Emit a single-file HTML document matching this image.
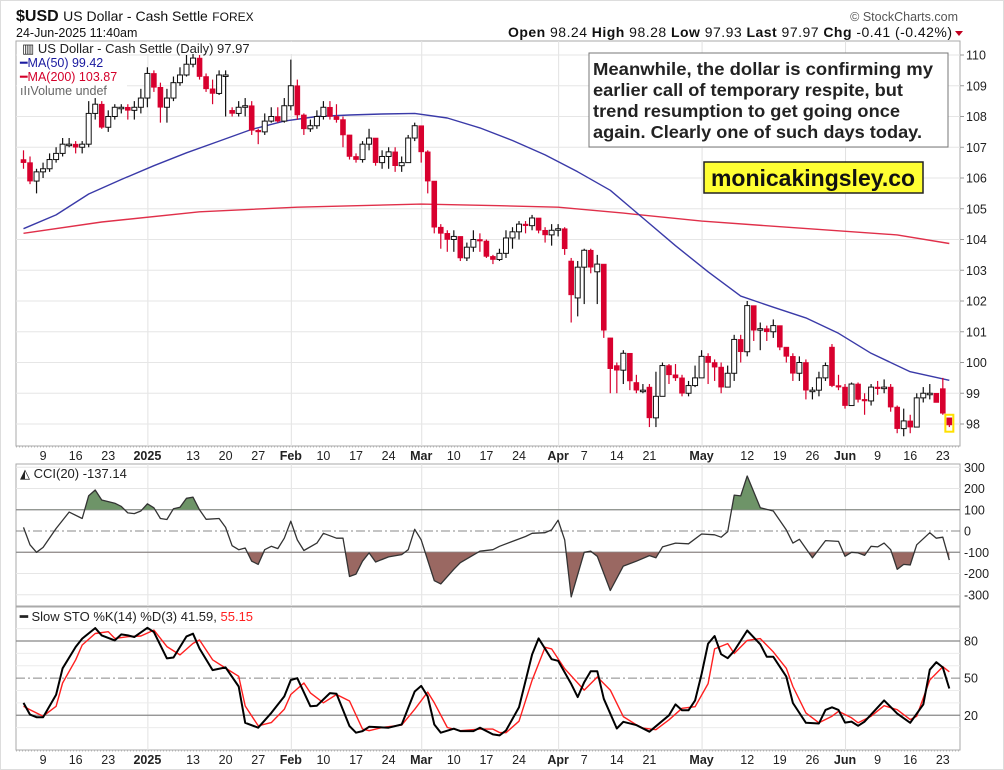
<!DOCTYPE html>
<html><head><meta charset="utf-8"><style>
html,body{margin:0;padding:0;background:#fff}
svg{display:block;font-family:"Liberation Sans",Arial,sans-serif}
</style></head><body>
<svg id="chart" width="1004" height="770" viewBox="0 0 1004 770" xmlns="http://www.w3.org/2000/svg">
<rect x="0.5" y="0.5" width="1003" height="769" fill="#fff" stroke="#ddd"/>
<g>
<text x="16" y="21" font-size="16" font-weight="bold" fill="#111">$USD <tspan font-weight="normal" font-size="14">US Dollar - Cash Settle</tspan> <tspan font-weight="normal" font-size="12">FOREX</tspan></text>
<text x="16" y="37" font-size="12.5" fill="#111">24-Jun-2025 11:40am</text>
<text x="958" y="21" font-size="12.5" fill="#555" text-anchor="end">© StockCharts.com</text>
<text x="508" y="37" font-size="14" fill="#111" textLength="444" lengthAdjust="spacing"><tspan font-weight="bold">Open</tspan> 98.24 <tspan font-weight="bold">High</tspan> 98.28 <tspan font-weight="bold">Low</tspan> 97.93 <tspan font-weight="bold">Last</tspan> 97.97 <tspan font-weight="bold">Chg</tspan> -0.41 (-0.42%)</text>
<polygon points="955,31 963,31 959,36" fill="#c00020"/>
</g>
<g id="grid"></g>
<g id="marks"></g>
<g id="axes"></g>
<g>
<rect x="17" y="42" width="285" height="12" fill="#fff"/>
<rect x="17" y="54" width="110" height="42" fill="#fff"/>
<text x="22" y="53" font-size="13" fill="#222">▥ US Dollar - Cash Settle (Daily) 97.97</text>
<text x="20" y="67" font-size="12.5" fill="#1a1aa0">━MA(50) 99.42</text>
<text x="20" y="81" font-size="12.5" fill="#d4002a">━MA(200) 103.87</text>
<text x="20" y="95" font-size="12.5" fill="#666">ıIıVolume undef</text>
</g>
<g>
<rect x="589" y="53" width="359" height="94" fill="#fff" stroke="#777" stroke-width="1"/>
<text x="593" y="75" font-size="17.5" font-weight="bold" fill="#222" textLength="340" lengthAdjust="spacingAndGlyphs">Meanwhile, the dollar  is confirming my</text>
<text x="593" y="96" font-size="17.5" font-weight="bold" fill="#222" textLength="310" lengthAdjust="spacingAndGlyphs">earlier call of temporary respite, but</text>
<text x="593" y="117" font-size="17.5" font-weight="bold" fill="#222" textLength="307" lengthAdjust="spacingAndGlyphs">trend resumption to get going once</text>
<text x="593" y="138" font-size="17.5" font-weight="bold" fill="#222" textLength="329" lengthAdjust="spacingAndGlyphs">again. Clearly one of such days today.</text>
</g>
<g>
<rect x="704" y="162" width="219" height="31" fill="#ffff33" stroke="#222" stroke-width="1.5"/>
<text x="813" y="186" font-size="23" font-weight="bold" fill="#111" text-anchor="middle">monicakingsley.co</text>
</g>
</svg>
<script>
// ---------- DATA ----------
const opens=[106.6,106.5,105.9,106.2,106.3,106.6,106.8,107.1,107.1,107.0,107.1,108.1,108.4,107.65,108.0,108.3,108.3,108.2,108.3,108.6,109.4,108.95,108.3,108.6,109.1,109.35,109.7,109.9,109.3,108.9,108.75,109.35,108.2,108.1,108.3,108.35,107.55,107.5,107.85,108.0,107.85,108.35,109.0,108.05,107.6,107.7,108.0,108.3,108.0,107.9,107.4,106.7,106.6,107.1,107.3,106.5,106.7,106.85,106.4,106.5,107.3,107.7,106.85,105.9,104.4,104.2,104.0,104.1,103.4,103.75,104.0,103.95,103.45,103.35,103.55,104.05,104.25,104.5,104.45,104.7,104.3,104.15,104.3,104.35,103.3,102.1,103.1,103.65,102.95,103.2,100.8,99.9,99.75,100.3,99.35,99.1,99.2,98.2,98.9,99.9,99.6,99.5,99.0,99.25,99.5,100.2,100.0,99.85,99.2,99.65,100.75,100.35,101.85,101.05,101.1,101.0,101.2,100.5,100.2,99.65,100.0,99.1,99.1,99.5,100.5,99.25,99.2,98.6,99.3,98.8,98.75,99.2,99.15,99.2,98.55,97.85,98.1,97.9,98.85,99.0,99.0,99.15,98.2];
const closes=[106.5,105.9,106.2,106.3,106.6,106.8,107.1,107.1,107.0,107.1,108.1,108.4,107.65,108.0,108.3,108.3,108.2,108.3,108.6,109.4,108.95,108.3,108.6,109.1,109.35,109.7,109.9,109.3,108.9,108.75,109.35,109.35,108.1,108.3,108.35,107.55,107.5,107.85,108.0,107.85,108.35,109.0,108.05,107.6,107.7,108.0,108.3,108.0,107.9,107.4,106.7,106.6,107.1,107.3,106.5,106.7,106.85,106.4,106.5,107.3,107.7,106.85,105.9,104.4,104.2,104.0,104.1,103.4,103.75,104.0,103.95,103.45,103.35,103.55,104.05,104.25,104.5,104.45,104.7,104.3,104.15,104.3,104.35,103.7,102.2,103.1,103.65,103.1,103.2,101.05,99.8,99.75,100.3,99.4,99.1,99.1,98.2,98.9,99.9,99.6,99.5,99.0,99.25,99.5,100.2,100.0,99.85,99.2,99.65,100.75,100.35,101.85,101.05,101.1,101.0,101.2,100.5,100.2,99.65,100.0,99.1,99.1,99.5,99.9,99.25,99.2,98.6,99.3,98.8,98.75,99.2,99.15,99.2,98.55,97.85,98.1,97.9,98.85,99.0,99.0,98.7,98.35,97.97];
const highs=[106.9,106.7,106.3,106.5,106.8,107.0,107.3,107.3,107.2,107.2,108.5,108.6,108.5,108.2,108.4,108.4,108.4,108.5,108.9,109.6,109.5,109.1,108.9,109.3,109.6,110.0,110.1,110.0,109.4,109.2,109.5,109.5,108.3,108.5,108.6,108.5,107.6,108.1,108.3,108.3,108.6,109.85,109.2,108.1,107.9,108.2,108.5,108.5,108.4,108.0,107.4,106.8,107.2,107.6,107.3,106.9,107.0,107.0,106.7,107.4,107.8,107.7,106.9,105.9,104.5,104.3,104.3,104.1,103.9,104.3,104.2,104.0,103.5,103.7,104.3,104.4,104.6,104.6,104.8,104.7,104.4,104.5,104.5,104.4,103.4,103.3,103.7,103.7,103.5,103.2,100.8,100.0,100.4,100.3,99.6,99.3,99.3,99.7,100.0,99.95,99.95,99.6,99.4,99.9,100.4,100.3,100.1,100.0,99.9,100.9,100.9,102.0,101.85,101.3,101.2,101.4,101.2,100.5,100.3,100.2,100.1,99.2,99.7,100.0,100.6,99.6,99.3,99.35,99.35,99.0,99.3,99.4,99.45,99.3,98.6,98.5,98.3,99.0,99.2,99.3,99.0,99.5,98.2];
const lows=[106.3,105.8,105.5,106.0,106.2,106.5,106.7,107.0,106.8,106.8,107.0,107.9,107.6,107.5,107.9,108.1,107.9,107.9,108.1,108.3,108.8,107.8,107.8,108.5,109.0,109.3,109.6,109.2,108.8,108.4,108.7,108.0,108.0,108.0,108.0,107.4,107.1,107.4,107.8,107.8,107.8,108.2,107.9,107.4,107.5,107.6,107.9,107.9,107.8,107.0,106.6,106.5,106.5,106.9,106.4,106.3,106.3,106.2,106.2,106.5,107.2,106.5,105.5,104.2,103.7,103.6,103.6,103.3,103.3,103.6,103.6,103.4,103.2,103.3,103.4,103.7,104.0,104.2,104.3,104.2,103.9,103.8,104.1,103.5,101.3,101.5,101.9,102.9,101.9,100.8,99.0,99.0,99.3,99.1,99.0,99.0,97.9,97.9,98.9,99.3,99.4,98.9,98.9,99.2,99.5,99.3,99.4,99.0,99.2,99.4,100.0,100.2,100.7,100.4,100.7,100.8,100.4,100.0,99.4,99.4,98.8,98.8,98.9,99.4,99.2,99.1,98.5,98.6,98.7,98.3,98.6,98.95,99.0,98.4,97.7,97.6,97.7,97.9,98.7,98.8,98.7,98.3,97.9];
const ma50Idx=[0,5,10,15,20,25,30,35,40,45,50,55,60,65,70,75,80,85,90,95,100,105,110,115,120,125,130,136,142];
const ma50Val=[104.35,104.8,105.48,105.95,106.4,106.82,107.2,107.58,107.85,108.0,108.05,108.08,108.1,107.95,107.63,107.22,106.75,106.2,105.6,104.7,103.8,102.95,102.16,101.8,101.45,100.95,100.3,99.7,99.42];
const ma200Idx=[0,12,27,42,61,73,82,92,104,119,134,142];
const ma200Val=[104.2,104.57,104.9,105.05,105.15,105.1,105.05,104.86,104.6,104.37,104.15,103.87];
const cciIdx=[0,1,2,3,5,7,9,10,11,12,14,15,16,17,18,19,20,21,22,23,24,25,26,27,28,30,31,32,33,34,35,36,37,38,39,40,41,42,43,45,46,48,49,50,51,52,53,54,56,58,59,60,61,63,64,66,67,70,72,73,75,77,78,80,81,82,83,84,86,87,88,90,92,94,96,97,98,100,102,104,106,107,108,109,110,111,113,115,117,118,119,121,123,125,126,127,128,129,130,131,132,133,134,135,136,137,139,140,141,142];
const cciVal=[17,-65,-100,-77,12,89,59,166,193,146,131,116,85,82,94,128,109,59,54,105,112,154,159,100,55,59,17,-69,-88,-80,-142,-157,-88,-72,-83,-34,46,-42,-92,-57,-11,-34,-34,-214,-203,-142,-103,-146,-122,-111,-88,8,-42,-234,-249,-180,-149,-95,-88,-72,-49,-26,-11,-8,5,51,-42,-310,-100,-95,-119,-280,-165,-142,-116,-126,-75,-57,-60,-14,-18,-29,-3,169,165,259,109,94,5,-57,-39,-126,-45,-49,-119,-100,-103,-115,-72,-75,-57,-88,-180,-157,-160,-65,-8,-34,-29,-137.14];
const stoKIdx=[0,1,2,3,5,6,8,9,11,12,14,15,16,17,19,20,22,23,25,26,27,29,31,33,34,36,38,40,41,42,44,45,47,48,50,51,52,53,56,58,60,61,62,63,64,66,67,69,70,72,73,74,76,78,79,81,82,84,85,86,87,88,89,91,92,94,96,99,100,101,102,103,104,105,106,107,108,109,111,113,114,115,117,118,120,122,123,124,125,126,127,128,129,132,134,136,138,139,140,141,142];
const stoKVal=[30,20.5,18.4,18.4,36.5,57.9,75.2,81.9,90.4,84.5,80.5,85.3,84.5,83.2,90.7,87.2,65.9,66.7,83.7,85.9,73.9,56.5,58.7,43.2,13.9,9.9,21.9,35.2,48.5,49.9,27.2,27.7,37.9,37.3,11.2,5.9,7.2,10.7,9.9,12.5,39.2,43.7,35.2,12.5,5.9,9.1,7.2,7.2,9.9,4.5,3.7,7.7,26.4,69.1,82.1,65.3,64,45.3,34.7,46.7,55.5,55.5,33.3,9.3,14.7,12,6.7,20,28.8,24,24,32,53.3,77.9,84,69.3,66.1,72,88.5,77.3,67.2,67.2,51.2,29.9,13.9,13.3,24.3,26.4,24.3,14.1,14.9,11.5,14.9,32,21.3,13.9,28.8,56.8,62.9,58.7,41.59];
const stoDIdx=[0,1,3,5,6,8,9,11,13,14,16,18,20,22,24,26,27,29,31,33,34,36,38,40,41,43,44,46,48,50,52,53,55,58,60,62,63,65,67,70,72,73,74,76,78,80,81,83,86,87,88,90,92,94,95,97,99,101,103,105,106,108,109,111,113,115,117,118,120,122,124,125,127,128,130,132,134,136,137,139,141,142];
const stoDVal=[27.2,24.5,19.2,27.2,46.1,64.8,76.8,86.1,87.5,82.1,83.5,84,88.8,75.5,68.8,78.1,80.8,64.8,58.1,51.5,27.5,11.5,14.1,24.8,36.8,46.1,38.1,30.1,36.8,31.5,8.8,7.5,10.1,12,24.8,38.7,30.1,10.1,7.5,8.8,8.8,6.1,5.9,15.2,48.3,74.9,73.6,57.6,40.3,45.6,50.9,40.3,18.9,12.3,9.6,8.3,16.3,25.6,26.9,45.6,73.6,77.9,69.9,80.5,81.9,71.2,57.9,43.2,21.9,13.9,19.2,23.2,17.9,13.9,19.2,27.7,24.5,16.5,19.2,48.5,59.2,55.15];
const tickIdx=[3,8,13,19,26,31,36,41,46,51,56,61,66,71,76,82,86,91,96,104,111,116,121,126,131,136,141];
const tickLabels=['9','16','23','2025','13','20','27','Feb','10','17','24','Mar','10','17','24','Apr','7','14','21','May','12','19','26','Jun','9','16','23'];
const tickBold=[0,0,0,1,0,0,0,1,0,0,0,1,0,0,0,1,0,0,0,1,0,0,0,1,0,0,0];
const monthIdx=[19,41,61,82,104,126];
const priceTicks=[98,99,100,101,102,103,104,105,106,107,108,109,110];
const cciTicks=[300,200,100,0,-100,-200,-300];
const stoTicks=[80,50,20];

// ---------- SCALES ----------
const NS='http://www.w3.org/2000/svg';
const L=16,R=960;
const X=i=>23.5+i*6.52;
const YP=p=>55+(110-p)*30.75;
const YC=v=>531-v*0.2125;
const YS=v=>740-v*1.2375;
const P={main:[41,446],cci:[464,606],sto:[607,750]};
function mk(tag,attrs,parent){const e=document.createElementNS(NS,tag);for(const k in attrs)e.setAttribute(k,attrs[k]);parent.appendChild(e);return e;}
const grid=document.getElementById('grid'),marks=document.getElementById('marks'),axes=document.getElementById('axes');

for(const key in P){
  const [t,b]=P[key];
  const fr=mk('rect',{x:L,y:t,width:R-L,height:b-t,fill:'#fff',stroke:'#aaa'},grid);
  
  
  monthIdx.forEach(m=>{const ln=mk('line',{x1:X(m)+0.5,x2:X(m)+0.5,y1:t,y2:b,stroke:'#e2e2e2'},grid);
    
    });
}
priceTicks.forEach(p=>{
  const ln=mk('line',{x1:L,x2:R,y1:YP(p),y2:YP(p),stroke:'#e6e6e6'},grid);
  
  
  mk('line',{x1:R,x2:R+4,y1:YP(p),y2:YP(p),stroke:'#999'},axes);
  const t=mk('text',{x:R+6,y:YP(p)+4.5,'font-size':12.5,fill:'#222'},axes);t.textContent=p;
  
  
});
[-300,-200,200,300].forEach(v=>{mk('line',{x1:L,x2:R,y1:YC(v),y2:YC(v),stroke:'#e6e6e6'},grid);});
[100,-100].forEach(v=>{mk('line',{x1:L,x2:R,y1:YC(v),y2:YC(v),stroke:'#888','stroke-width':1.3},grid);});
mk('line',{x1:L,x2:R,y1:YC(0),y2:YC(0),stroke:'#888','stroke-dasharray':'9,3,2,3'},grid);
cciTicks.forEach(v=>{const t=mk('text',{x:R+4,y:YC(v)+4.5,'font-size':12.5,fill:'#222'},axes);t.textContent=v;
  
  });
[10,30,40,60,70,90].forEach(v=>{mk('line',{x1:L,x2:R,y1:YS(v),y2:YS(v),stroke:'#ececec'},grid);});
[80,20].forEach(v=>{mk('line',{x1:L,x2:R,y1:YS(v),y2:YS(v),stroke:'#888','stroke-width':1.3},grid);});
mk('line',{x1:L,x2:R,y1:YS(50),y2:YS(50),stroke:'#888','stroke-dasharray':'9,3,2,3'},grid);
stoTicks.forEach(v=>{const t=mk('text',{x:R+4,y:YS(v)+4.5,'font-size':12.5,fill:'#222'},axes);t.textContent=v;
  
  });

[456,760].forEach((yy,ai)=>{
  mk('line',{x1:L,x2:R,y1:yy-9,y2:yy-9,stroke:'#bbb','stroke-dasharray':'1,2'},axes);
  tickIdx.forEach((ti,k)=>{
    const t=mk('text',{x:X(ti),y:yy+4,'font-size':12.5,'text-anchor':'middle',fill:'#222','font-weight':tickBold[k]?'bold':'normal'},axes);
    t.textContent=tickLabels[k];
    
    
  });
});

function poly(idx,val,yf,color,w,name){
  const pts=idx.map((i,k)=>X(i).toFixed(1)+','+yf(val[k]).toFixed(1)).join(' ');
  const e=mk('polyline',{points:pts,fill:'none',stroke:color,'stroke-width':w,'stroke-linejoin':'round'},marks);
  
  
  return e;
}
poly(ma200Idx,ma200Val,YP,'#e0304a',1.4,'ma200-line');
poly(ma50Idx,ma50Val,YP,'#3a3aa8',1.4,'ma50-line');

closes.forEach((c,i)=>{
  const o=opens[i],x=X(i),up=c>=o,col=up?'#111':'#d8002e';
  const w=mk('line',{x1:x,x2:x,y1:YP(highs[i]),y2:YP(lows[i]),stroke:col,'stroke-width':1.2},marks);
  
  
  const top=YP(Math.max(o,c)),h=Math.max(1.5,Math.abs(YP(o)-YP(c)));
  const b=mk('rect',{x:x-2.5,y:top,width:5,height:h,fill:up?'#fff':'#d8002e',stroke:up?'#111':'#d8002e','stroke-width':up?1:0.6},marks);
  
  
});
const lx=X(closes.length-1);
const hl=mk('rect',{x:lx-4,y:YP(98.3),width:8,height:YP(97.75)-YP(98.3),fill:'none',stroke:'#ffe000','stroke-width':2},marks);



const cciPts=cciIdx.map((i,k)=>[X(i),YC(cciVal[k])]);
const defs=mk('defs',{},marks);
const cp1=mk('clipPath',{id:'cAbove'},defs);mk('rect',{x:L,y:P.cci[0],width:R-L,height:YC(100)-P.cci[0]},cp1);
const cp2=mk('clipPath',{id:'cBelow'},defs);mk('rect',{x:L,y:YC(-100),width:R-L,height:P.cci[1]-YC(-100)},cp2);
function areaTo(level){return 'M'+cciPts[0][0]+','+level+' '+cciPts.map(p=>'L'+p[0].toFixed(1)+','+p[1].toFixed(1)).join(' ')+' L'+cciPts[cciPts.length-1][0]+','+level+'Z';}
const fa=mk('path',{d:areaTo(YC(100)),fill:'#6e9468','clip-path':'url(#cAbove)'},marks);


const fb=mk('path',{d:areaTo(YC(-100)),fill:'#9a6862','clip-path':'url(#cBelow)'},marks);


poly(cciIdx,cciVal,YC,'#333',1.3,'cci-line');

poly(stoDIdx,stoDVal,YS,'#ff2020',1.4,'sto-d-line');
poly(stoKIdx,stoKVal,YS,'#000',2,'sto-k-line');

const g1=mk('text',{x:20,y:478,'font-size':13,fill:'#222'},axes);g1.textContent='◭ CCI(20) -137.14';


const g2=mk('text',{x:20,y:621,'font-size':13,fill:'#222'},axes);
g2.innerHTML='<tspan font-weight="bold">━</tspan> Slow STO %K(14) %D(3) 41.59, <tspan fill="#ff2020">55.15</tspan>';


</script>
</body></html>
